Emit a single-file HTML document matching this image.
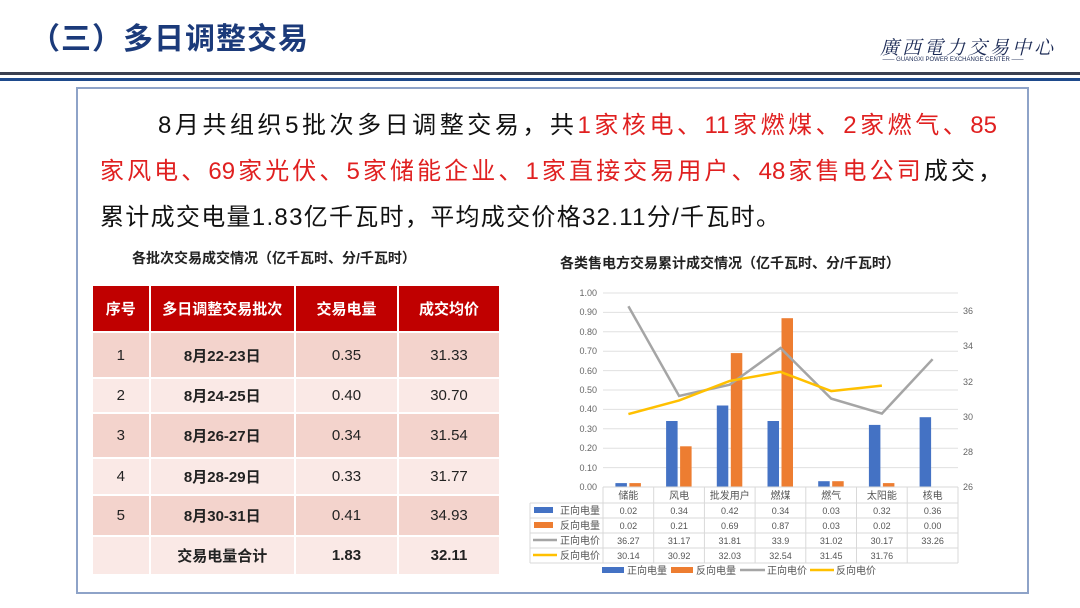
<!DOCTYPE html>
<html><head><meta charset="utf-8"><style>
body{margin:0;width:1080px;height:608px;background:#fff;position:relative;overflow:hidden;font-family:"Liberation Sans","Noto Sans CJK SC",sans-serif}
.t{position:absolute;left:30px;top:14px;font-size:30px;font-weight:bold;color:#1b3a7a;letter-spacing:1px}
.logo{position:absolute;left:880px;top:33px;font-family:"Noto Serif CJK SC",serif;font-size:19px;color:#1b2a55;letter-spacing:3px;font-style:italic}
.sub{position:absolute;left:848px;top:57px;font-size:6px;color:#1b2a55;width:210px;text-align:center}
.box{position:absolute;left:76px;top:87px;width:953px;height:507px;border:2px solid #8ea3c8;box-sizing:border-box}
.p{position:absolute;left:100px;top:103px;width:897px;font-size:24px;line-height:46px;color:#111}
.p div{text-align:justify;text-align-last:justify;white-space:nowrap}
.r{color:#e02020}
.ct{position:absolute;font-size:14px;font-weight:bold;color:#222}
table{position:absolute;left:91px;top:284px;border-collapse:collapse;font-size:15px;color:#222;table-layout:fixed}
td{text-align:center;border:2px solid #fff;padding:0}
tr.h td{background:#c00000;color:#fff;font-weight:bold;height:45px}
tr.d td{background:#f3d3cc}
tr.l td{background:#fae9e6}
</style></head><body>
<div class="t">（三）多日调整交易</div>
<div class="logo">廣西電力交易中心</div>
<div class="sub">—— GUANGXI POWER EXCHANGE CENTER ——</div>
<div style="position:absolute;left:0;top:72px;width:1080px;height:3px;background:#3a4050"></div>
<div style="position:absolute;left:0;top:78px;width:1080px;height:3px;background:#1e4a8c"></div>
<div class="box"></div>
<div class="p">
<div style="padding-left:58px">8月共组织5批次多日调整交易，共<span class="r">1家核电、11家燃煤、2家燃气、85</span></div>
<div style="width:902px"><span class="r">家风电、69家光伏、5家储能企业、1家直接交易用户、48家售电公司</span>成交，</div>
<div style="text-align-last:left;letter-spacing:1.3px">累计成交电量1.83亿千瓦时，平均成交价格32.11分/千瓦时。</div>
</div>
<div class="ct" style="left:132px;top:248px">各批次交易成交情况（亿千瓦时、分/千瓦时）</div>
<div class="ct" style="left:560px;top:253px">各类售电方交易累计成交情况（亿千瓦时、分/千瓦时）</div>
<table style="width:410px">
<tr class="h"><td style="width:55px">序号</td><td style="width:142px">多日调整交易批次</td><td style="width:100px">交易电量</td><td style="width:99px">成交均价</td></tr>
<tr class="d" style="height:46px"><td>1</td><td><b>8月22-23日</b></td><td>0.35</td><td>31.33</td></tr>
<tr class="l" style="height:35px"><td>2</td><td><b>8月24-25日</b></td><td>0.40</td><td>30.70</td></tr>
<tr class="d" style="height:45px"><td>3</td><td><b>8月26-27日</b></td><td>0.34</td><td>31.54</td></tr>
<tr class="l" style="height:37px"><td>4</td><td><b>8月28-29日</b></td><td>0.33</td><td>31.77</td></tr>
<tr class="d" style="height:41px"><td>5</td><td><b>8月30-31日</b></td><td>0.41</td><td>34.93</td></tr>
<tr class="l" style="height:39px"><td></td><td><b>交易电量合计</b></td><td><b>1.83</b></td><td><b>32.11</b></td></tr>
</table>
<svg style="position:absolute;left:0;top:0" width="1080" height="608" font-family="Liberation Sans, Noto Sans CJK SC, sans-serif">
<g stroke="#e0e0e0" stroke-width="1">
<line x1="603" x2="958" y1="293" y2="293"/><line x1="603" x2="958" y1="312.4" y2="312.4"/><line x1="603" x2="958" y1="331.8" y2="331.8"/><line x1="603" x2="958" y1="351.2" y2="351.2"/><line x1="603" x2="958" y1="370.6" y2="370.6"/><line x1="603" x2="958" y1="390" y2="390"/><line x1="603" x2="958" y1="409.4" y2="409.4"/><line x1="603" x2="958" y1="428.8" y2="428.8"/><line x1="603" x2="958" y1="448.2" y2="448.2"/><line x1="603" x2="958" y1="467.6" y2="467.6"/>
</g>
<g font-size="9" fill="#666" text-anchor="end">
<text x="597" y="296">1.00</text><text x="597" y="315">0.90</text><text x="597" y="335">0.80</text><text x="597" y="354">0.70</text><text x="597" y="374">0.60</text><text x="597" y="393">0.50</text><text x="597" y="412">0.40</text><text x="597" y="432">0.30</text><text x="597" y="451">0.20</text><text x="597" y="471">0.10</text><text x="597" y="490">0.00</text>
</g>
<g font-size="9" fill="#666">
<text x="963" y="314">36</text><text x="963" y="349">34</text><text x="963" y="385">32</text><text x="963" y="420">30</text><text x="963" y="455">28</text><text x="963" y="490">26</text>
</g>
<g fill="#4472c4">
<rect x="615.4" y="483.1" width="11.5" height="3.9"/><rect x="666.1" y="421" width="11.5" height="66"/><rect x="716.8" y="405.5" width="11.5" height="81.5"/><rect x="767.5" y="421" width="11.5" height="66"/><rect x="818.2" y="481.2" width="11.5" height="5.8"/><rect x="868.9" y="424.9" width="11.5" height="62.1"/><rect x="919.6" y="417.2" width="11.5" height="69.8"/>
</g>
<g fill="#ed7d31">
<rect x="629.4" y="483.1" width="11.5" height="3.9"/><rect x="680.1" y="446.3" width="11.5" height="40.7"/><rect x="730.8" y="353.1" width="11.5" height="133.9"/><rect x="781.5" y="318.2" width="11.5" height="168.8"/><rect x="832.2" y="481.2" width="11.5" height="5.8"/><rect x="882.9" y="483.1" width="11.5" height="3.9"/>
</g>
<polyline fill="none" stroke="#a5a5a5" stroke-width="2.5" points="628.4,306.2 679.1,396 729.8,384.7 780.5,348 831.2,398.6 881.9,413.6 932.6,359.2"/>
<polyline fill="none" stroke="#ffc000" stroke-width="2.5" points="628.4,414.1 679.1,400.4 729.8,380.9 780.5,371.9 831.2,391.1 881.9,385.6"/>
<g stroke="#d9d9d9" stroke-width="1" fill="none">
<line x1="603" x2="958" y1="487" y2="487"/>
<line x1="530" x2="958" y1="503" y2="503"/><line x1="530" x2="958" y1="518" y2="518"/><line x1="530" x2="958" y1="533" y2="533"/><line x1="530" x2="958" y1="548" y2="548"/><line x1="530" x2="958" y1="563" y2="563"/>
<line x1="530" x2="530" y1="503" y2="563"/>
<line x1="603" x2="603" y1="487" y2="563"/><line x1="653.7" x2="653.7" y1="487" y2="563"/><line x1="704.4" x2="704.4" y1="487" y2="563"/><line x1="755.1" x2="755.1" y1="487" y2="563"/><line x1="805.8" x2="805.8" y1="487" y2="563"/><line x1="856.5" x2="856.5" y1="487" y2="563"/><line x1="907.2" x2="907.2" y1="487" y2="563"/><line x1="958" x2="958" y1="487" y2="563"/>
</g>
<g font-size="10" fill="#555" text-anchor="middle">
<text x="628.4" y="499">储能</text><text x="679.1" y="499">风电</text><text x="729.8" y="499">批发用户</text><text x="780.5" y="499">燃煤</text><text x="831.2" y="499">燃气</text><text x="881.9" y="499">太阳能</text><text x="932.6" y="499">核电</text>
<g font-size="9">
<text x="628.4" y="514">0.02</text><text x="679.1" y="514">0.34</text><text x="729.8" y="514">0.42</text><text x="780.5" y="514">0.34</text><text x="831.2" y="514">0.03</text><text x="881.9" y="514">0.32</text><text x="932.6" y="514">0.36</text>
<text x="628.4" y="529">0.02</text><text x="679.1" y="529">0.21</text><text x="729.8" y="529">0.69</text><text x="780.5" y="529">0.87</text><text x="831.2" y="529">0.03</text><text x="881.9" y="529">0.02</text><text x="932.6" y="529">0.00</text>
<text x="628.4" y="544">36.27</text><text x="679.1" y="544">31.17</text><text x="729.8" y="544">31.81</text><text x="780.5" y="544">33.9</text><text x="831.2" y="544">31.02</text><text x="881.9" y="544">30.17</text><text x="932.6" y="544">33.26</text>
<text x="628.4" y="559">30.14</text><text x="679.1" y="559">30.92</text><text x="729.8" y="559">32.03</text><text x="780.5" y="559">32.54</text><text x="831.2" y="559">31.45</text><text x="881.9" y="559">31.76</text>
</g></g>
<g font-size="10" fill="#555">
<rect x="534" y="507" width="19" height="6" fill="#4472c4"/><text x="560" y="514">正向电量</text>
<rect x="534" y="522" width="19" height="6" fill="#ed7d31"/><text x="560" y="529">反向电量</text>
<line x1="533" x2="557" y1="540" y2="540" stroke="#a5a5a5" stroke-width="2.5"/><text x="560" y="544">正向电价</text>
<line x1="533" x2="557" y1="555" y2="555" stroke="#ffc000" stroke-width="2.5"/><text x="560" y="559">反向电价</text>
<rect x="602" y="567" width="22" height="6" fill="#4472c4"/><text x="627" y="574">正向电量</text>
<rect x="671" y="567" width="22" height="6" fill="#ed7d31"/><text x="696" y="574">反向电量</text>
<line x1="740" x2="765" y1="570" y2="570" stroke="#a5a5a5" stroke-width="2.5"/><text x="767" y="574">正向电价</text>
<line x1="810" x2="834" y1="570" y2="570" stroke="#ffc000" stroke-width="2.5"/><text x="836" y="574">反向电价</text>
</g>
</svg>
</body></html>
